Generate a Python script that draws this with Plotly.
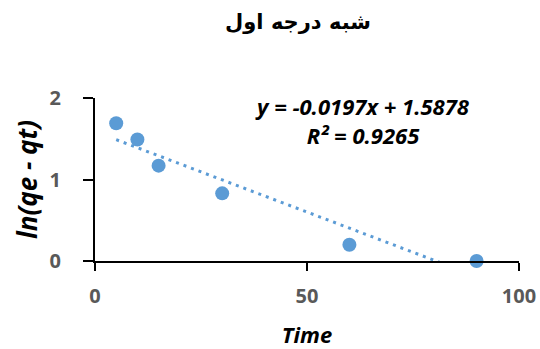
import plotly.graph_objects as go
import numpy as np

# data
time = [5, 10, 15, 30, 60, 90]
ln_qe_qt = [1.69, 1.49, 1.17, 0.83, 0.2, 0.0]
x_ticks = [0, 50, 100]
y_ticks = [0, 1, 2]
eq_lines = ["y = -0.0197x + 1.5878", "R² = 0.9265"]

blue = "#5B9BD5"
grey = "#595959"

W, H = 540, 349
# plot area in page pixels
LEFT, RIGHT, TOP, BOTTOM = 95, 519, 98, 261

slope, intercept = np.polyfit(time, ln_qe_qt, 1)
trend_x = np.array([min(time), max(time)])
trend_y = slope * trend_x + intercept

fig = go.Figure()
fig.add_trace(go.Scatter(
    x=trend_x, y=trend_y, mode="lines",
    line=dict(color=blue, width=3, dash="3px,5px"),
    showlegend=False, hoverinfo="skip",
))
fig.add_trace(go.Scatter(
    x=time, y=ln_qe_qt, mode="markers",
    marker=dict(color=blue, size=14),
    cliponaxis=False, showlegend=False,
))

tick_font = dict(size=20, color=grey, family="Open Sans", weight="bold")

fig.update_layout(
    width=W, height=H,
    margin=dict(l=LEFT, r=W - RIGHT, t=TOP, b=H - BOTTOM),
    paper_bgcolor="white", plot_bgcolor="white",
    font=dict(family="Open Sans", color=grey),
    title=dict(
        text="<b>شبه درجه اول</b>",
        x=(298 - LEFT) / (RIGHT - LEFT), xref="paper", xanchor="center",
        y=1 - 22 / H, yanchor="middle",
        font=dict(family="DejaVu Sans", size=21, color="black"),
    ),
    xaxis=dict(
        range=[0, 100], tickvals=x_ticks, automargin=False,
        showgrid=False, zeroline=False,
        showline=True, linecolor="black", linewidth=2,
        ticks="outside", ticklen=8, tickwidth=2, tickcolor="black",
        tickfont=tick_font, ticklabelstandoff=8,
        title=dict(text="<b><i>Time</i></b>", standoff=29,
                   font=dict(size=22, color="black", family="Open Sans")),
    ),
    yaxis=dict(
        range=[0, 2], tickvals=y_ticks, automargin=False,
        showgrid=False, zeroline=False,
        showline=True, linecolor="black", linewidth=2,
        ticks="outside", ticklen=10, tickwidth=2, tickcolor="black",
        tickfont=tick_font, ticklabelstandoff=18,
        title=dict(text="<b><i>ln(qe - qt)</i></b>", standoff=4,
                   font=dict(size=26, color="black", family="Open Sans")),
    ),
)

fig.add_annotation(
    text="<br>".join("<b><i>%s</i></b>" % s for s in eq_lines),
    xref="paper", yref="paper",
    x=(362 - LEFT) / (RIGHT - LEFT), y=(BOTTOM - 120) / (BOTTOM - TOP),
    xanchor="center", yanchor="middle", showarrow=False,
    font=dict(size=22, color="black", family="Open Sans"),
)

# drop the default body margin so the 540x349 figure fills the window
fig.write_html("out.html", config={"displayModeBar": False},
               post_script="document.body.style.margin='0px';"
                           "document.body.style.overflow='hidden';")
